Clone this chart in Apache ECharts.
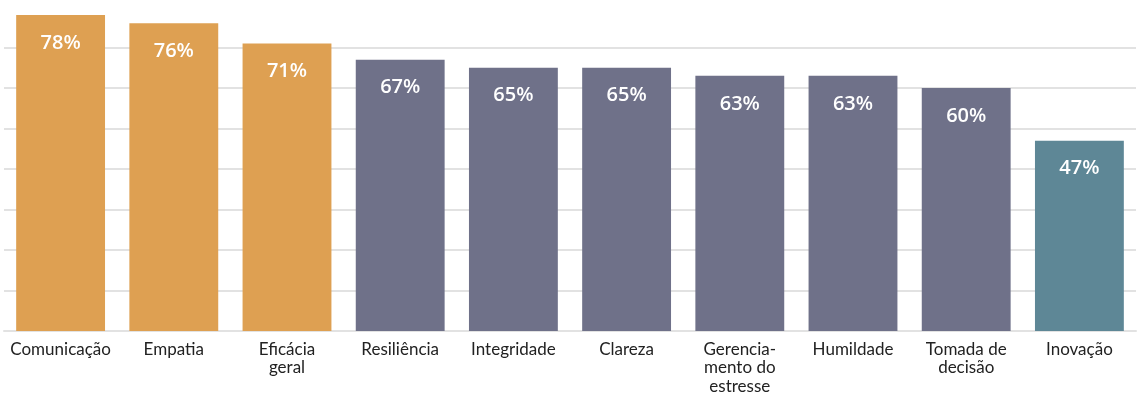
<!DOCTYPE html>
<html>
<head>
<meta charset="utf-8">
<script src="https://cdn.jsdelivr.net/npm/echarts@6/dist/echarts.min.js"></script>
<style>
  html, body { margin: 0; padding: 0; background: #fff; }
  #main { width: 1138px; height: 406px; }
</style>
</head>
<body>
<div id="main"></div>
<script>
const categories = [
  'Comunicação', 'Empatia', 'Eficácia\ngeral', 'Resiliência', 'Integridade',
  'Clareza', 'Gerencia-\nmento do\nestresse', 'Humildade', 'Tomada de\ndecisão', 'Inovação'
];
const values = [78, 76, 71, 67, 65, 65, 63, 63, 60, 47];
const barColors = [
  '#DEA052', '#DEA052', '#DEA052',
  '#6F7189', '#6F7189', '#6F7189', '#6F7189', '#6F7189', '#6F7189',
  '#5E8796'
];

var chartDom = document.getElementById('main');
var myChart = echarts.init(chartDom);

const gridColors = [];
for (let i = 0; i < 8; i++) gridColors.push('#e2e2e2');
gridColors.push('rgba(0,0,0,0)');

var option = {
  animation: false,
  grid: { left: 4, right: 2, top: 7, bottom: 75 },
  xAxis: {
    type: 'category',
    data: categories,
    axisTick: { show: false },
    axisLine: { lineStyle: { color: '#e2e2e2', width: 2 } },
    axisLabel: {
      interval: 0,
      color: '#222',
      fontFamily: 'Lato',
      fontSize: 17,
      lineHeight: 18.5,
      margin: 9
    }
  },
  yAxis: {
    type: 'value',
    min: 0,
    max: 80,
    interval: 10,
    axisLabel: { show: false },
    axisLine: { show: false },
    axisTick: { show: false },
    splitLine: { lineStyle: { color: gridColors, width: 2 } }
  },
  series: [
    {
      type: 'bar',
      barCategoryGap: '21.5%',
      data: values.map(function (v, i) {
        return { value: v, itemStyle: { color: barColors[i] } };
      }),
      label: {
        show: true,
        position: 'insideTop',
        distance: 18,
        color: '#fff',
        fontFamily: 'Open Sans',
        fontWeight: 600,
        fontSize: 20,
        formatter: '{c}%'
      }
    }
  ]
};

myChart.setOption(option);
</script>
</body>
</html>
